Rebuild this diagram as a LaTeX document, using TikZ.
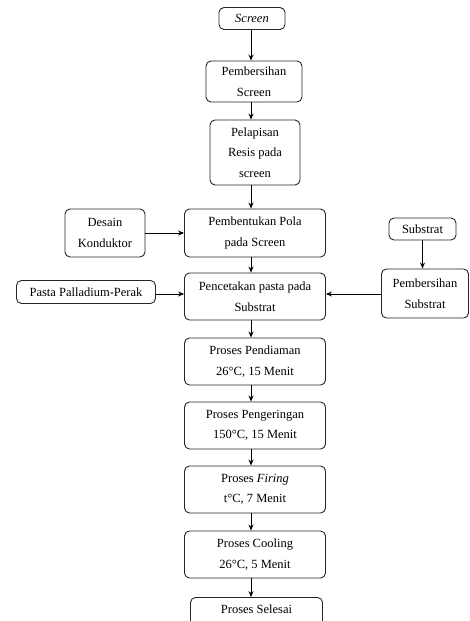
\documentclass[tikz,border=0pt]{standalone}
\usepackage{fontspec}
\setmainfont{Liberation Serif}
\usepackage{tikz}
\usetikzlibrary{arrows.meta,positioning,calc}

\begin{document}
\begin{tikzpicture}[
  x=1pt, y=-1pt,
  >={Stealth[length=6pt,width=5pt]},
  box/.style={draw=black!85, rounded corners=5pt, line width=0.9pt, inner sep=0pt,
              align=center, font=\fontsize{12.5}{20.5}\selectfont},
  boxmain/.style={box, minimum width=141pt, minimum height=47pt},
  boxsmall/.style={box, minimum height=22pt},
  arr/.style={->, line width=0.9pt},
]
\useasboundingbox (0,0) rectangle (469,621);

% main column (screen preparation)
\node[boxsmall, minimum width=66pt] (scr) at (252, 18.5) {\textit{Screen}};
\node[box, minimum width=96pt, minimum height=41pt] (bersihscr) at (254, 81.5) {Pembersihan\\Screen};
\node[box, minimum width=90pt, minimum height=65pt] (resis) at (255, 152.5) {Pelapisan\\Resis pada\\screen};
\node[boxmain, minimum height=48pt] (pola) at (255, 233) {Pembentukan Pola\\pada Screen};
\node[box, minimum width=80pt, minimum height=48pt] (desain) at (105, 233) {Desain\\Konduktor};
\coordinate (axis) at (251, 0);

\draw[arr] (scr.south -| axis) -- (bersihscr.north -| axis);
\draw[arr] (bersihscr.south -| axis) -- (resis.north -| axis);
\draw[arr] (resis.south -| axis) -- (pola.north -| axis);
\draw[arr] (desain) -- (pola);

% substrate branch
\node[boxsmall, minimum width=67pt] (sub) at (422.5, 229) {Substrat};
\node[box, minimum width=87pt, minimum height=49pt] (bersihsub) at (425, 293.5) {Pembersihan\\Substrat};
\node[boxsmall, minimum width=139pt, minimum height=23pt] (pasta) at (86, 292) {Pasta Palladium-Perak};
\node[boxmain] (cetak) at (255, 296.5) {Pencetakan pasta pada\\Substrat};

\draw[arr] (sub.south) -- (sub.south |- bersihsub.north);
\draw[arr] (pola.south -| axis) -- (cetak.north -| axis);
\draw[arr] (pasta.east |- 0,294) -- (cetak.west |- 0,294);
\draw[arr] (bersihsub.west |- 0,294) -- (cetak.east |- 0,294);

% process steps
\node[boxmain] (diam) at (255, 361.5) {Proses Pendiaman\\26°C, 15 Menit};
\node[boxmain] (kering) at (255, 425.5) {Proses Pengeringan\\150°C, 15 Menit};
\node[boxmain] (firing) at (255, 489.5) {Proses \textit{Firing}\\t°C, 7 Menit};
\node[boxmain] (cool) at (255, 554.5) {Proses Cooling\\26°C, 5 Menit};
\node[box, minimum width=132pt, minimum height=47pt, text depth=24pt] (selesai) at (256.5, 621) {Proses Selesai};

\draw[arr] (cetak.south -| axis) -- (diam.north -| axis);
\draw[arr] (diam.south -| axis) -- (kering.north -| axis);
\draw[arr] (kering.south -| axis) -- (firing.north -| axis);
\draw[arr] (firing.south -| axis) -- (cool.north -| axis);
\draw[arr] (cool.south -| axis) -- (selesai.north -| axis);
\end{tikzpicture}
\end{document}
